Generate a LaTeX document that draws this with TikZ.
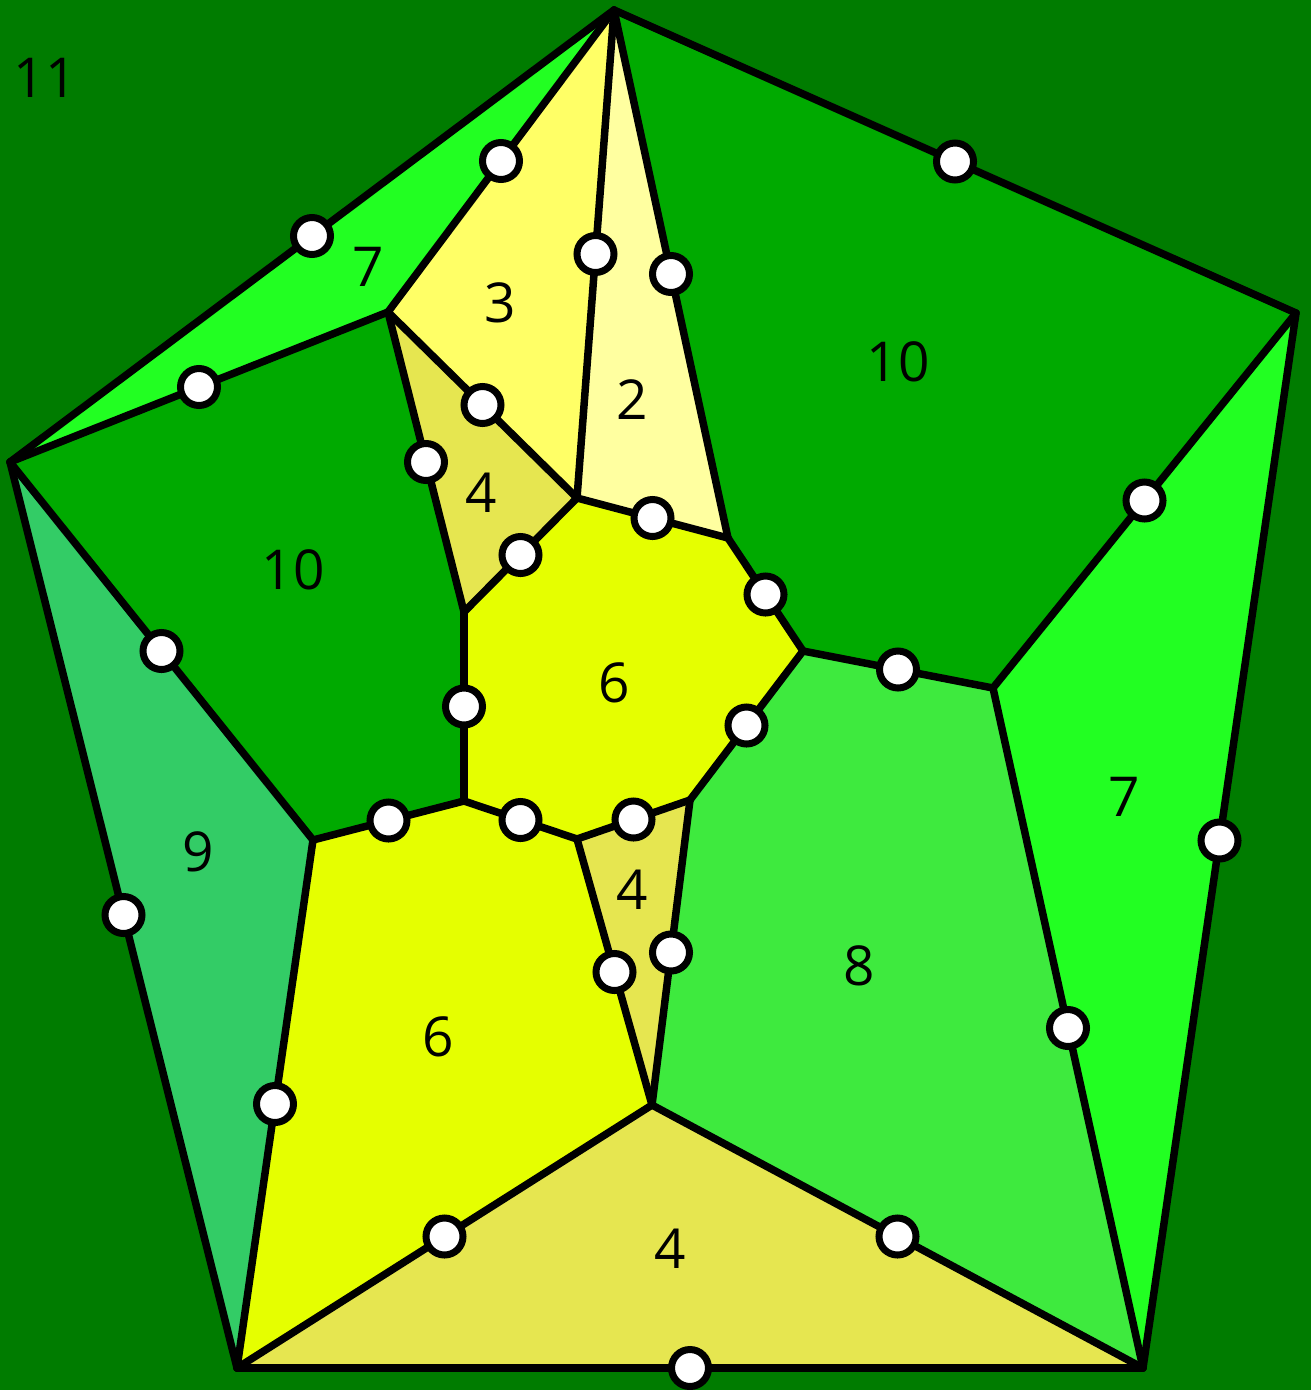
\documentclass[tikz,border=0pt]{standalone}
\usepackage{fontspec}
\setmainfont{Open Sans}
\usetikzlibrary{calc}
\definecolor{outer}{HTML}{007C00}
\definecolor{ften}{HTML}{00AA00}
\definecolor{fseven}{HTML}{22FF22}
\definecolor{fthree}{HTML}{FFFF66}
\definecolor{ftwo}{HTML}{FFFFA0}
\definecolor{ffour}{HTML}{E6E650}
\definecolor{fsix}{HTML}{E5FF00}
\definecolor{fnine}{HTML}{33CC66}
\definecolor{feight}{HTML}{3EEA3E}
\begin{document}
\begin{tikzpicture}[x=1pt,y=-1pt,
  edge/.style={line width=7.5pt, line join=round, line cap=round},
  dot/.style={circle, fill=white, draw=black, line width=7pt, minimum size=37pt, inner sep=0pt},
  lbl/.style={font=\fontsize{55}{55}\selectfont, text=black, inner sep=0pt}]
\fill[outer] (0,0) rectangle (1311,1390);
\useasboundingbox (0,0) rectangle (1311,1390);
% vertices
\coordinate (T) at (614,10);
\coordinate (R) at (1296,313);
\coordinate (L) at (10,462);
\coordinate (BL) at (237,1368);
\coordinate (BR) at (1143,1368);
\coordinate (A) at (388,312);
\coordinate (B) at (577,498);
\coordinate (C) at (728,538);
\coordinate (D) at (803,651);
\coordinate (E) at (993,688);
\coordinate (F) at (464,612);
\coordinate (G) at (464,801);
\coordinate (H) at (313,840);
\coordinate (I) at (577,839);
\coordinate (J) at (690,800);
\coordinate (K) at (652,1105);
% faces
\fill[fseven] (T) -- (A) -- (L) -- cycle;
\fill[fthree] (T) -- (A) -- (B) -- cycle;
\fill[ftwo] (T) -- (B) -- (C) -- cycle;
\fill[ften] (T) -- (R) -- (E) -- (D) -- (C) -- cycle;
\fill[ffour] (A) -- (B) -- (F) -- cycle;
\fill[ften] (L) -- (A) -- (F) -- (G) -- (H) -- cycle;
\fill[fsix] (B) -- (C) -- (D) -- (J) -- (I) -- (G) -- (F) -- cycle;
\fill[fnine] (L) -- (H) -- (BL) -- cycle;
\fill[fsix] (H) -- (G) -- (I) -- (K) -- (BL) -- cycle;
\fill[ffour] (I) -- (J) -- (K) -- cycle;
\fill[feight] (D) -- (E) -- (BR) -- (K) -- (J) -- cycle;
\fill[fseven] (R) -- (BR) -- (E) -- cycle;
\fill[ffour] (BL) -- (K) -- (BR) -- cycle;
% edges
\foreach \a/\b in {T/L,T/A,T/B,T/C,T/R,A/L,A/B,A/F,B/C,B/F,C/D,D/E,E/R,R/BR,E/BR,D/J,F/G,L/H,L/BL,H/G,G/I,I/J,I/K,J/K,H/BL,BL/K,K/BR,BL/BR}{
  \draw[edge] (\a) -- (\b);
}
\foreach \a/\b in {T/L,T/A,T/B,T/C,T/R,A/L,A/B,A/F,B/C,B/F,C/D,D/E,E/R,R/BR,E/BR,D/J,F/G,L/H,L/BL,H/G,G/I,I/J,I/K,J/K,H/BL,BL/K,K/BR,BL/BR}{
  \node[dot] (m\a\b) at ($(\a)!0.5!(\b)$) {};
}
% labels
\node[lbl] (l11) at (45,78) {11};
\node[lbl] (l7a) at (368,267) {7};
\node[lbl] (l3) at (500,303) {3};
\node[lbl] (l2) at (632,400) {2};
\node[lbl] (l10a) at (898,362) {10};
\node[lbl] (l4a) at (481,493) {4};
\node[lbl] (l10b) at (293,570) {10};
\node[lbl] (l6a) at (614,683) {6};
\node[lbl] (l9) at (198,852) {9};
\node[lbl] (l4b) at (632,890) {4};
\node[lbl] (l8) at (859,966) {8};
\node[lbl] (l7b) at (1124,797) {7};
\node[lbl] (l6b) at (438,1037) {6};
\node[lbl] (l4c) at (670,1249) {4};
\end{tikzpicture}
\end{document}
